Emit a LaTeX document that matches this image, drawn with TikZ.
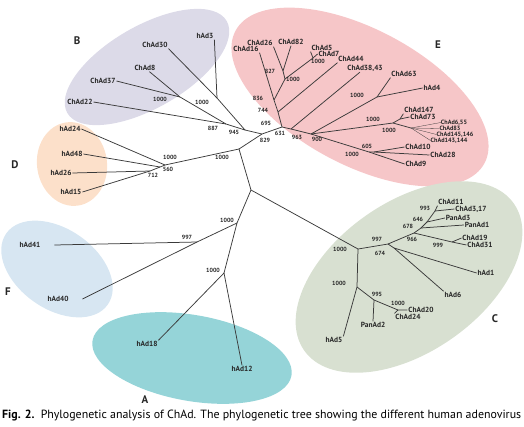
\documentclass[tikz,border=0pt]{standalone}
\usepackage{fontspec}
\setmainfont{PT Sans}
\usepackage{xcolor}
\usepackage{graphicx}
\usetikzlibrary{positioning}

\definecolor{cladeB}{HTML}{DCDAE8}
\definecolor{cladeE}{HTML}{F6C6C8}
\definecolor{cladeD}{HTML}{FCE0CA}
\definecolor{cladeF}{HTML}{D7E6F2}
\definecolor{cladeA}{HTML}{95D4D8}
\definecolor{cladeC}{HTML}{D8E0D1}
\definecolor{treegray}{HTML}{3A3A3A}

\begin{document}
\begin{tikzpicture}[
		x=1pt, y=-1pt,
		br/.style={draw=treegray, line width=0.75pt},
		thinbr/.style={draw=treegray, line width=0.3pt},
		leaf/.style={font=\bfseries\fontsize{7.4}{8}\selectfont, inner sep=0.8pt, text=black!85},
		tightleaf/.style={leaf, font=\bfseries\fontsize{6.2}{6.5}\selectfont, inner sep=0pt},
		boot/.style={font=\bfseries\fontsize{6}{6}\selectfont, inner sep=0pt, text=black!85},
		clade/.style={font=\bfseries\fontsize{11}{12}\selectfont, text=black!85}
		]
		
		\useasboundingbox (0,0) rectangle (524,426);
		
		% Clade backgrounds
		\fill[cladeB, rotate around={30:(147,67)}] (147,67) ellipse [x radius=92pt, y radius=41pt];
		\fill[cladeE, rotate around={-28:(360,97)}] (360,97) ellipse [x radius=141pt, y radius=68pt];
		\fill[cladeD, rotate around={8:(72,164)}] (72,164) ellipse [x radius=35pt, y radius=42pt];
		\fill[cladeF, rotate around={-35:(57,269)}] (57,269) ellipse [x radius=62pt, y radius=40pt];
		\fill[cladeA, rotate around={-10:(192,358)}] (192,358) ellipse [x radius=101pt, y radius=43pt];
		\fill[cladeC, rotate around={35:(409,277)}] (409,277) ellipse [x radius=128pt, y radius=75pt];
		
		% Clade letters
		\node[clade] (LB) at (77,41) {B};
		\node[clade] (LE) at (438,45) {E};
		\node[clade] (LD) at (15,165) {D};
		\node[clade] (LF) at (8,292) {F};
		\node[clade] (LA) at (145,400) {A};
		\node[clade] (LC) at (495,319) {C};
		
		% Inner branch points
		\coordinate (c0) at (262,134);
		\coordinate (j1) at (239,149);
		\coordinate (r0) at (251,190);
		\coordinate (b1) at (217,98);
		\coordinate (b2) at (180,97);
		\coordinate (b3) at (226,124);
		\coordinate (b4) at (245,130);
		\coordinate (d1) at (165,165);
		\coordinate (d2) at (160,167);
		\coordinate (d3) at (150,171);
		\coordinate (e631) at (282,127);
		\coordinate (e744) at (278,112);
		\coordinate (e836) at (274,100);
		\coordinate (e1000a) at (285,79);
		\coordinate (e827) at (283,71);
		\coordinate (e57) at (313,58);
		\coordinate (e963) at (291,129);
		\coordinate (e900) at (311,134);
		\coordinate (e1000b) at (377,97);
		\coordinate (e1000c) at (393,123);
		\coordinate (e147) at (400,119);
		\coordinate (e4) at (411,128);
		\coordinate (e1000d) at (369,152);
		\coordinate (e605) at (374,152);
		\coordinate (cr) at (358,249);
		\coordinate (c997) at (388,244);
		\coordinate (c674) at (394,248);
		\coordinate (c966) at (414,233);
		\coordinate (c678) at (421,228);
		\coordinate (c646) at (427,222);
		\coordinate (c993) at (435,211);
		\coordinate (c999) at (452,242);
		\coordinate (cb) at (357,287);
		\coordinate (c995) at (374,300);
		\coordinate (c1000c) at (398,310);
		\coordinate (a1) at (237,223);
		\coordinate (f1) at (197,242);
		\coordinate (a2) at (224,273);
		
		% Leaves B
		\node[leaf] (hAd3) at (205,36) {hAd3};
		\node[leaf] (ChAd30) at (155,45) {ChAd30};
		\node[leaf] (ChAd8) at (145,68) {ChAd8};
		\node[leaf] (ChAd37) at (103,81) {ChAd37};
		\node[leaf] (ChAd22) at (80,102) {ChAd22};
		
		% Leaves D
		\node[leaf] (hAd24) at (70,129) {hAd24};
		\node[leaf] (hAd48) at (72,154) {hAd48};
		\node[leaf] (hAd26) at (61,173) {hAd26};
		\node[leaf] (hAd15) at (71,192) {hAd15};
		
		% Leaves E
		\node[leaf] (ChAd16) at (246,49) {ChAd16};
		\node[leaf] (ChAd26) at (260,43) {ChAd26};
		\node[leaf] (ChAd82) at (291,42) {ChAd82};
		\node[leaf] (ChAd5) at (322,48) {ChAd5};
		\node[leaf] (ChAd7) at (329,54) {ChAd7};
		\node[leaf] (ChAd44) at (351,59) {ChAd44};
		\node[leaf] (ChAd3843) at (365,68) {ChAd38,43};
		\node[leaf] (ChAd63) at (404,74) {ChAd63};
		\node[leaf] (hAd4) at (432,88) {hAd4};
		\node[leaf] (ChAd147) at (419,110) {ChAd147};
		\node[leaf] (ChAd73) at (423,117) {ChAd73};
		\node[tightleaf] (ChAd655) at (454,122.5) {ChAd6,55};
		\node[tightleaf] (ChAd83) at (450,128.5) {ChAd83};
		\node[tightleaf] (ChAd145) at (455,134.5) {ChAd145,146};
		\node[tightleaf] (ChAd143) at (449,140.5) {ChAd143,144};
		\node[leaf] (ChAd10) at (418,147) {ChAd10};
		\node[leaf] (ChAd28) at (443,155) {ChAd28};
		\node[leaf] (ChAd9) at (416,164) {ChAd9};
		
		% Leaves C
		\node[leaf] (ChAd11) at (451,202) {ChAd11};
		\node[leaf] (ChAd317) at (471,209) {ChAd3,17};
		\node[leaf] (PanAd3) at (458,218) {PanAd3};
		\node[leaf] (PanAd1) at (477,225) {PanAd1};
		\node[leaf] (ChAd19) at (475,238) {ChAd19};
		\node[leaf] (ChAd31) at (480,245) {ChAd31};
		\node[leaf] (hAd1) at (486,273) {hAd1};
		\node[leaf] (hAd6) at (453,295) {hAd6};
		\node[leaf] (ChAd20) at (421,310) {ChAd20};
		\node[leaf] (ChAd24) at (408,317) {ChAd24};
		\node[leaf] (PanAd2) at (373,325) {PanAd2};
		\node[leaf] (hAd5) at (334,340) {hAd5};
		
		% Leaves F and A
		\node[leaf] (hAd41) at (30,245) {hAd41};
		\node[leaf] (hAd40) at (58,299) {hAd40};
		\node[leaf] (hAd18) at (147,344) {hAd18};
		\node[leaf] (hAd12) at (242,369) {hAd12};
		
		% Backbone
		\draw[br] (b4) -- (c0) -- (e631);
		\draw[br] (c0) -- (j1) -- (r0) -- (cr);
		\draw[br] (j1) -- (d1);
		\draw[br] (r0) -- (a1) -- (a2);
		
		% Clade B
		\draw[br] (b4) -- (b3) -- (ChAd22.east);
		\draw[br] (b3) -- (b2) -- (ChAd37.east);
		\draw[br] (b2) -- (ChAd8);
		\draw[br] (b4) -- (b1) -- (ChAd30.south east);
		\draw[br] (b1) -- (hAd3.south east);
		
		% Clade D
		\draw[br] (d1) -- (hAd24.east);
		\draw[br] (d1) -- (d2) -- (hAd48.east);
		\draw[br] (d2) -- (d3) -- (hAd26.east);
		\draw[br] (d3) -- (hAd15.east);
		
		% Clade E
		\draw[br] (e631) -- (e744) -- (e836) -- (ChAd16.south east);
		\draw[br] (e744) -- (ChAd44.south west);
		\draw[br] (e836) -- (e1000a) -- (e827) -- (ChAd26.south east);
		\draw[br] (e827) -- (ChAd82.south);
		\draw[br] (e1000a) -- (e57) -- (ChAd5.south west);
		\draw[br] (e57) -- (ChAd7.west);
		\draw[br] (e631) -- (e963) -- (ChAd3843);
		\draw[br] (e963) -- (e900) -- (e1000b) -- (ChAd63.south west);
		\draw[br] (e1000b) -- (hAd4.west);
		\draw[br] (e900) -- (e1000c) -- (e147) -- (ChAd147.south west);
		\draw[br] (e147) -- (ChAd73.west);
		\draw[br] (e1000c) -- (e4);
		\draw[thinbr] (e4) -- (ChAd655.west);
		\draw[thinbr] (e4) -- (ChAd83.west);
		\draw[thinbr] (e4) -- (ChAd145.west);
		\draw[thinbr] (e4) -- (ChAd143.west);
		\draw[br] (e900) -- (e1000d) -- (ChAd9.west);
		\draw[br] (e1000d) -- (e605) -- (ChAd10.west);
		\draw[br] (e605) -- (ChAd28.west);
		
		% Clade C
		\draw[br] (cr) -- (c997) -- (c966) -- (c678) -- (PanAd1.west);
		\draw[br] (c997) -- (c674) -- (hAd1.west);
		\draw[br] (c674) -- (hAd6.north west);
		\draw[br] (c966) -- (c999) -- (ChAd31.west);
		\draw[br] (c999) -- (ChAd19.west);
		\draw[br] (c678) -- (c646) -- (PanAd3.west);
		\draw[br] (c646) -- (c993) -- (ChAd11.south west);
		\draw[br] (c993) -- (ChAd317.west);
		\draw[br] (cr) -- (cb) -- (hAd5.north east);
		\draw[br] (cb) -- (c995) -- (PanAd2.north);
		\draw[br] (c995) -- (c1000c) -- (ChAd20.west);
		\draw[br] (c1000c) -- (ChAd24.north west);
		
		% Clades F and A
		\draw[br] (a1) -- (f1) -- ([xshift=13pt]hAd40.east);
		\draw[br] (f1) -- ([xshift=13pt]hAd41.east);
		\draw[br] (a2) -- (hAd18.north east);
		\draw[br] (a2) -- (hAd12.north);
		
		% Bootstrap values
		\node[boot] (bsB1) at (160,99) {1000};
		\node[boot] (bsB2) at (202,102) {1000};
		\node[boot] (bsB3) at (213,128) {887};
		\node[boot] (bsB4) at (234,132) {945};
		\node[boot] (bsD1) at (170,157) {1000};
		\node[boot] (bsD2) at (168,169) {560};
		\node[boot] (bsD3) at (153,175) {712};
		\node[boot] (bsD4) at (222,157) {1000};
		\node[boot] (bsM1) at (265,140) {829};
		\node[boot] (bsE1) at (280,133) {631};
		\node[boot] (bsE2) at (266,123) {695};
		\node[boot] (bsE3) at (263,110) {744};
		\node[boot] (bsE4) at (258,98) {836};
		\node[boot] (bsE5) at (270,71) {827};
		\node[boot] (bsE6) at (293,79) {1000};
		\node[boot] (bsE7) at (318,61) {1000};
		\node[boot] (bsE8) at (297,137) {963};
		\node[boot] (bsE9) at (317,139) {900};
		\node[boot] (bsE10) at (357,95) {1000};
		\node[boot] (bsE11) at (373,119) {1000};
		\node[boot] (bsE12) at (389,130) {1000};
		\node[boot] (bsE13) at (367,146) {605};
		\node[boot] (bsE14) at (352,154) {1000};
		\node[boot] (bsC1) at (425,208) {993};
		\node[boot] (bsC2) at (418,219) {646};
		\node[boot] (bsC3) at (408,226) {678};
		\node[boot] (bsC4) at (412,239) {966};
		\node[boot] (bsC5) at (377,239) {997};
		\node[boot] (bsC6) at (340,249) {1000};
		\node[boot] (bsC7) at (380,253) {674};
		\node[boot] (bsC8) at (438,245) {999};
		\node[boot] (bsC9) at (339,283) {1000};
		\node[boot] (bsC10) at (377,294) {995};
		\node[boot] (bsC11) at (398,303) {1000};
		\node[boot] (bsA1) at (227,220) {1000};
		\node[boot] (bsF1) at (187,237) {997};
		\node[boot] (bsA2) at (213,270) {1000};
		
		% Caption
		\node[anchor=west, inner sep=0pt] (caption) at (2,416)
		{\resizebox{519pt}{!}{\textbf{Fig. 2.}\ \ Phylogenetic analysis of ChAd. The phylogenetic tree showing the different human adenovirus}};
		
	\end{tikzpicture}
\end{document}
